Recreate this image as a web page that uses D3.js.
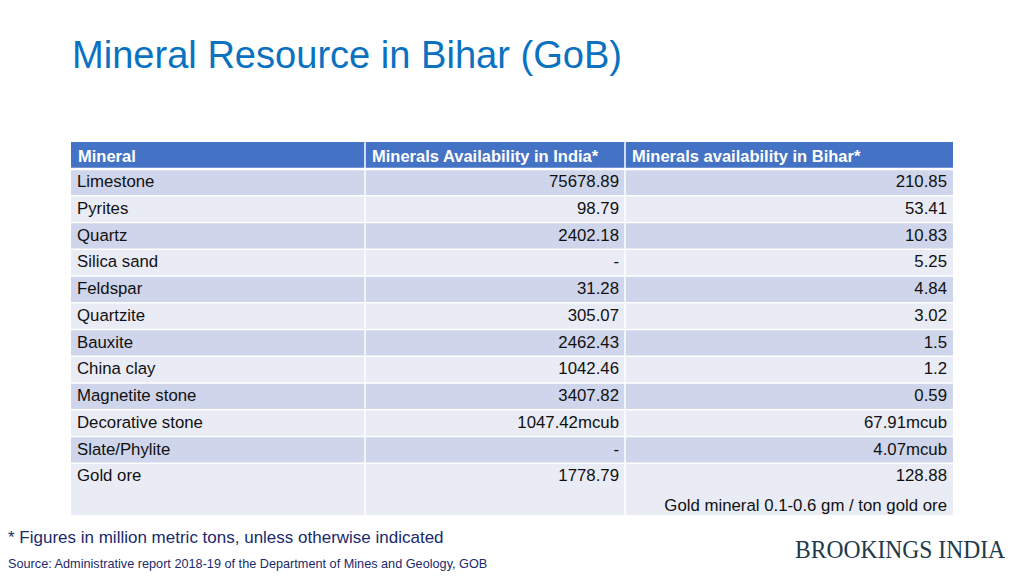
<!DOCTYPE html>
<html><head><meta charset="utf-8">
<script src="https://cdn.jsdelivr.net/npm/d3@7"></script>
<style>body{margin:0;background:#fff}svg{display:block}</style>
</head><body><svg id="c" width="1024" height="576"></svg>
<script>
const headers = ["Mineral", "Minerals Availability in India*", "Minerals availability in Bihar*"];
const minerals = ["Limestone","Pyrites","Quartz","Silica sand","Feldspar","Quartzite","Bauxite","China clay","Magnetite stone","Decorative stone","Slate/Phylite","Gold ore"];
const indiaValues = ["75678.89","98.79","2402.18","-","31.28","305.07","2462.43","1042.46","3407.82","1047.42mcub","-","1778.79"];
const biharValues = ["210.85","53.41","10.83","5.25","4.84","3.02","1.5","1.2","0.59","67.91mcub","4.07mcub","128.88"];
const goldNote = "Gold mineral 0.1-0.6 gm / ton gold ore";
const title = "Mineral Resource in Bihar (GoB)";
const footnote = "* Figures in million metric tons, unless otherwise indicated";
const source = "Source: Administrative report 2018-19 of the Department of Mines and Geology, GOB";
const brand = "BROOKINGS INDIA";

const svg = d3.select("#c");
const font = "'Liberation Sans', Arial, sans-serif";

svg.append("text").attr("x",72).attr("y",68).attr("font-family",font).attr("font-size",38)
  .attr("fill","#0A72C0").attr("textLength",550).attr("lengthAdjust","spacingAndGlyphs").text(title);

const colEdges = [71, 365, 625, 953];
const headTop = 142, headBot = 169, rowH = 26.75, lastBot = 515;
const y = d3.scaleLinear().domain([0, minerals.length]).range([headBot, headBot + rowH*minerals.length]);

const g = svg.append("g");
g.append("rect").attr("x",colEdges[0]).attr("y",headTop).attr("width",colEdges[3]-colEdges[0]).attr("height",headBot-headTop).attr("fill","#4472C4");
headers.forEach((h,i)=>{
  g.append("text").attr("x",colEdges[i]+7).attr("y",headTop+20).attr("font-family",font)
   .attr("font-weight","bold").attr("font-size",16.5).attr("fill","#fff").text(h);
});
const fs = 16.8;
minerals.forEach((m,i)=>{
  const top = y(i), bot = i===minerals.length-1 ? lastBot : y(i+1);
  g.append("rect").attr("x",colEdges[0]).attr("y",top).attr("width",colEdges[3]-colEdges[0]).attr("height",bot-top)
   .attr("fill", i%2===0 ? "#CFD5EA" : "#E9EBF5");
  const ty = top + 18;
  g.append("text").attr("x",colEdges[0]+6).attr("y",ty).attr("font-family",font).attr("font-size",fs).attr("fill","#111").text(m);
  g.append("text").attr("x",colEdges[2]-6).attr("y",ty).attr("text-anchor","end").attr("font-family",font).attr("font-size",fs).attr("fill","#111").text(indiaValues[i]);
  g.append("text").attr("x",colEdges[3]-6).attr("y",ty).attr("text-anchor","end").attr("font-family",font).attr("font-size",fs).attr("fill","#111").text(biharValues[i]);
});
g.append("text").attr("x",colEdges[3]-6).attr("y",lastBot-4).attr("text-anchor","end").attr("font-family",font).attr("font-size",fs).attr("fill","#111").text(goldNote);
d3.range(minerals.length).forEach(i=>{
  g.append("line").attr("x1",colEdges[0]).attr("x2",colEdges[3]).attr("y1",y(i)).attr("y2",y(i)).attr("stroke","#fff").attr("stroke-width",i===0?2.5:1.5);
});
[colEdges[1],colEdges[2]].forEach(x=>{
  g.append("line").attr("x1",x).attr("x2",x).attr("y1",headTop).attr("y2",lastBot).attr("stroke","#fff").attr("stroke-width",1.5);
});

svg.append("text").attr("x",8).attr("y",543).attr("font-family",font).attr("font-size",17).attr("fill","#1A2A6C").text(footnote);
svg.append("text").attr("x",8).attr("y",568).attr("font-family",font).attr("font-size",12.7).attr("fill","#1A2A6C").text(source);
svg.append("text").attr("x",1005).attr("y",558).attr("text-anchor","end").attr("font-family","'Liberation Serif','Times New Roman',serif")
  .attr("font-size",25).attr("fill","#1E3A4C").attr("textLength",210).attr("lengthAdjust","spacingAndGlyphs").text(brand);
</script></body></html>
